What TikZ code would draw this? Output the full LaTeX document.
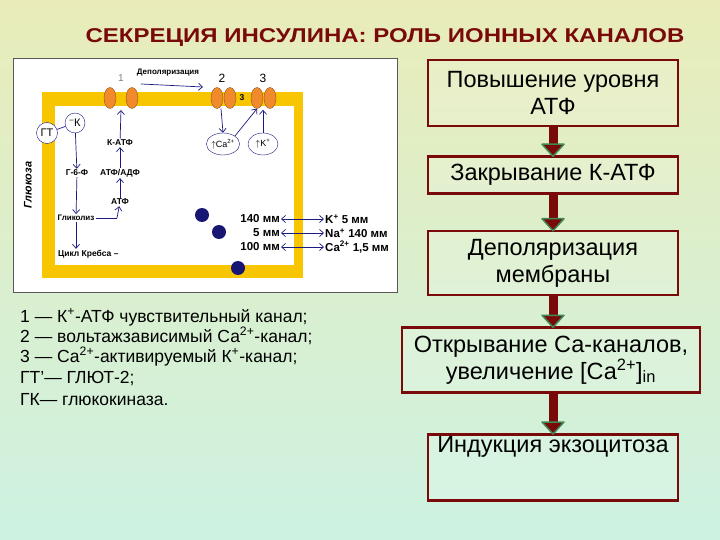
\documentclass[tikz,border=0pt]{standalone}
\usepackage{fontspec}
\setmainfont{Liberation Sans}
\usetikzlibrary{arrows.meta,shapes.geometric}
\definecolor{bgtop}{HTML}{E9ECB9}
\definecolor{bgbot}{HTML}{CDF2E2}
\definecolor{dred}{HTML}{7A0A0A}
\definecolor{fgreen}{HTML}{3E8A55}
\definecolor{mem}{HTML}{F8C600}
\definecolor{chan}{HTML}{F08A2C}
\definecolor{navy}{HTML}{1A1A80}
\begin{document}
\begin{tikzpicture}[x=1pt,y=-1pt,
  flowbox/.style={draw=dred,line width=2.5pt,fill=white,fill opacity=0.15,text opacity=1,minimum width=250pt,align=center,font=\fontsize{23.5}{27}\selectfont,inner sep=0pt},
  chanel/.style={ellipse,draw=chan!60!black,fill=chan,minimum width=12pt,minimum height=21pt,inner sep=0pt},
  lab/.style={font=\bfseries\fontsize{8.5}{9}\selectfont,text=black,inner sep=1pt},
  conc/.style={font=\bfseries\fontsize{11.5}{12}\selectfont,inner sep=1pt},
  sarr/.style={-{Straight Barb[length=4pt,width=7pt]},navy,line width=0.7pt},
  darr/.style={{Straight Barb[length=4pt,width=7pt]}-{Straight Barb[length=4pt,width=7pt]},navy,line width=0.7pt},
  legend/.style={anchor=base west,font=\fontsize{17.5}{19}\selectfont,inner sep=0pt}]
\shade[top color=bgtop,bottom color=bgbot] (0,0) rectangle (720,540);
\useasboundingbox (0,0) rectangle (720,540);
\node[font=\bfseries\fontsize{20}{22}\selectfont,text=dred] (title) at (385,38) {\scalebox{1.2}[1]{СЕКРЕЦИЯ ИНСУЛИНА: РОЛЬ ИОННЫХ КАНАЛОВ}};
% cell panel
\draw[fill=white,draw=gray!70!black,line width=0.5pt] (13,58) rectangle (397,292);
\fill[mem] (42,92) rectangle (303,278);
\fill[white] (55,106) rectangle (294,265);
% channels
\node[chanel] (c1a) at (110,98) {}; \node[chanel] (c1b) at (132,98) {};
\node[chanel] (c2a) at (217,98) {}; \node[chanel] (c2b) at (230,98) {};
\node[chanel] (c3a) at (257,98) {}; \node[chanel] (c3b) at (270,98) {};
\node[lab] (n3s) at (242,98) {3};
\node[font=\fontsize{10}{10}\selectfont,text=gray] (l1) at (121,78) {1};
\node[font=\fontsize{12}{12}\selectfont] (l2) at (222,78) {2};
\node[font=\fontsize{12}{12}\selectfont] (l3) at (263,78) {3};
\node[lab,font=\bfseries\fontsize{8}{8}\selectfont] (dep) at (168,73) {Деполяризация};
\coordinate (dpa) at (141,84); \coordinate (dpb) at (203,87);
\draw[sarr] (dpa) -- (dpb);
% GT, K
\node[circle,draw=navy,fill=white,minimum size=21pt,inner sep=0pt,font=\fontsize{11}{11}\selectfont] (gt) at (47,133) {ГТ};
\node[circle,draw=navy,fill=white,minimum size=20pt,inner sep=0pt,font=\fontsize{11}{11}\selectfont] (k) at (75,123) {\textsuperscript{--}К};
\draw[navy,line width=0.7pt] (gt) -- (k);
\node[lab] (g6f) at (77,173) {Г-6-Ф};
\node[lab,font=\bfseries\fontsize{8}{8}\selectfont] (glyc) at (76,218) {Гликолиз};
\node[lab,font=\bfseries\fontsize{8.5}{9}\selectfont,anchor=west] (krebs) at (57,254) {Цикл Кребса --};
\draw[sarr] (k) -- (g6f);
\draw[sarr] (g6f) -- (glyc);
\draw[sarr] (glyc) -- (glyc |- krebs.north);
\node[lab] (atf) at (120,202) {АТФ};
\node[lab] (atfadf) at (120,173) {АТФ/АДФ};
\node[lab] (katf) at (120,143) {К-АТФ};
\coordinate (gl2) at (117,218);
\draw[navy,line width=0.7pt] (glyc.east) -- (gl2);
\draw[sarr] (gl2) -- (atf);
\draw[sarr] (atf) -- (atfadf);
\draw[sarr] (atfadf) -- (katf);
\draw[sarr] (katf) -- (121,110);
% Ca, K+
\node[ellipse,draw=navy,fill=white,minimum width=30pt,minimum height=22pt,inner sep=0pt,font=\fontsize{9}{9}\selectfont] (ca) at (223,144) {$\uparrow$Ca\textsuperscript{2+}};
\node[ellipse,draw=navy,fill=white,minimum width=30pt,minimum height=22pt,inner sep=0pt,font=\fontsize{9}{9}\selectfont] (kp) at (263,144) {$\uparrow$K\textsuperscript{+}};
\draw[sarr] (c2a.south) ++(4,0) -- (ca.north);
\draw[sarr] (ca.north east) -- (c3a.south);
\draw[sarr] (kp.north) -- ++(0,-23);
% granules
\fill[navy!90!black] (202,215) circle (7); \fill[navy!90!black] (219,232) circle (7);
\fill[navy!90!black] (238,268) circle (7);
% concentrations
\node[conc,anchor=east] (i1) at (281,219) {140 мм};
\node[conc,anchor=east] (i2) at (281,233) {5 мм};
\node[conc,anchor=east] (i3) at (281,247) {100 мм};
\node[conc,anchor=west] (o1) at (324,219) {K\textsuperscript{+} 5 мм};
\node[conc,anchor=west] (o2) at (324,233) {Na\textsuperscript{+} 140 мм};
\node[conc,anchor=west] (o3) at (324,247) {Ca\textsuperscript{2+} 1,5 мм};
\draw[darr] (i1) -- (o1); \draw[darr] (i2) -- (o2); \draw[darr] (i3) -- (o3);
\node[rotate=90,font=\bfseries\itshape\fontsize{11}{11}\selectfont] (glu) at (28,185) {Глюкоза};
% legend
\node[legend] (lg1) at (20,322) {1 — К\textsuperscript{+}-АТФ чувствительный канал;};
\node[legend] (lg2) at (20,342) {2 — вольтажзависимый Са\textsuperscript{2+}-канал;};
\node[legend] (lg3) at (20,362) {3 — Са\textsuperscript{2+}-активируемый К\textsuperscript{+}-канал;};
\node[legend] (lg4) at (20,383) {ГТ'— ГЛЮТ-2;};
\node[legend] (lg5) at (20,405) {ГК— глюкокиназа.};
% flow
\node[flowbox,minimum height=66pt] (b1) at (553,93) {Повышение уровня\\АТФ};
\node[flowbox,minimum height=37pt] (b2) at (553,175) {Закрывание К-АТФ};
\node[flowbox,minimum height=64pt] (b3) at (553,263) {Деполяризация\\мембраны};
\node[flowbox,minimum height=65pt,minimum width=298pt] (b4) at (551,360) {Открывание Са-каналов,\\увеличение [Са\textsuperscript{2+}]\textsubscript{in}};
\node[flowbox,minimum height=66pt,anchor=north] (b5) at (553,433) {Индукция экзоцитоза\\[18pt]};
\foreach \a/\b in {b1/b2,b2/b3,b3/b4,b4/b5}{
  \coordinate (s) at (\a.south -| b1.south);
  \coordinate (t) at (\b.north -| b1.south);
  \draw[dred,line width=9pt] (s) -- ([yshift=9pt]t);
  \draw[fill=dred,draw=fgreen,line width=1.5pt,line join=round] ([shift={(-11,-11)}]t) -- ([shift={(11,-11)}]t) -- ([shift={(0,1)}]t) -- cycle;
}
\end{tikzpicture}
\end{document}
